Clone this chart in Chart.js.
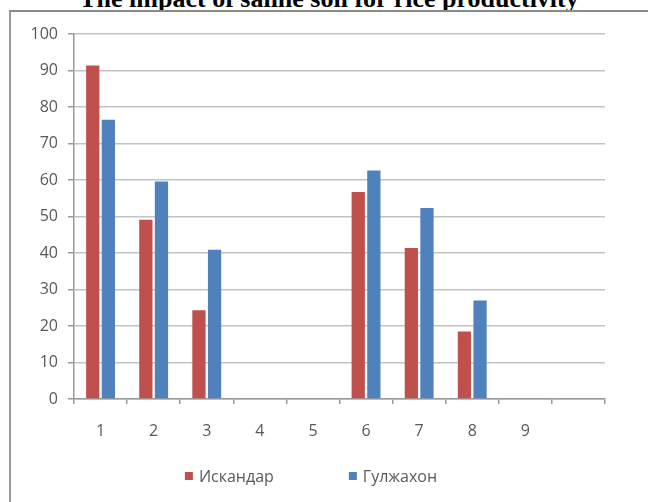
<!DOCTYPE html>
<html>
<head>
<meta charset="utf-8">
<script src="https://cdn.jsdelivr.net/npm/chart.js@4.4.1/dist/chart.umd.min.js"></script>
<style>
    html, body { margin: 0; padding: 0; background: #fff; }
    body { width: 648px; height: 502px; position: relative; overflow: hidden; }
    .chart-title {
        position: absolute; left: 0; top: -14px; width: 658px;
        text-align: center; font: bold 26px/26px "Liberation Serif", "Times New Roman", serif;
        color: #000; white-space: nowrap;
    }
    .chart-frame {
        position: absolute; left: 9px; top: 10px; width: 700px; height: 600px;
        border-left: 2px solid #9a9a9a; border-top: 2px solid #8a8a8a;
    }
    #riceChart { position: absolute; left: 0; top: 0; }
</style>
</head>
<body>
<div class="chart-title">The impact of saline soil for rice productivity</div>
<div class="chart-frame"></div>
<canvas id="riceChart" width="648" height="502"></canvas>
<script>
// Chart data
const categories = ['1', '2', '3', '4', '5', '6', '7', '8', '9', ''];
const iskandarValues = [91.4, 49.1, 24.3, null, null, 56.7, 41.4, 18.5, null, null];
const gulzhakhonValues = [76.5, 59.6, 40.9, null, null, 62.6, 52.3, 27.0, null, null];
const yTicks = [0, 10, 20, 30, 40, 50, 60, 70, 80, 90, 100];

(function() {
    'use strict';

    const labelColor = '#595959';
    const labelFont = { family: '"Open Sans", sans-serif', size: 16 };

    // Legend drawn below the axis, Excel style (wide gap between items)
    const bottomLegend = {
        id: 'bottomLegend',
        afterDraw: function(chart) {
            const ctx = chart.ctx;
            ctx.save();
            ctx.font = '16px "Open Sans", sans-serif';
            ctx.textBaseline = 'middle';
            const box = 8, gapText = 6, gapItems = 75;
            const items = chart.data.datasets.map(function(ds) {
                return { label: ds.label, color: ds.backgroundColor, w: ctx.measureText(ds.label).width };
            });
            let total = gapItems * (items.length - 1);
            items.forEach(function(it) { total += box + gapText + it.w; });
            let x = 311 - total / 2;
            const y = 476;
            items.forEach(function(it) {
                ctx.fillStyle = it.color;
                ctx.fillRect(x, y - box / 2, box, box);
                ctx.fillStyle = labelColor;
                ctx.fillText(it.label, x + box + gapText, y + 1);
                x += box + gapText + it.w + gapItems;
            });
            ctx.restore();
        }
    };

    function initChart() {
        const ctx = document.getElementById('riceChart');
        if (typeof Chart === 'undefined') {
            console.error('Chart.js is not loaded');
            return;
        }

        new Chart(ctx, {
            type: 'bar',
            data: {
                labels: categories,
                datasets: [{
                    label: 'Искандар',
                    data: iskandarValues,
                    backgroundColor: '#C0504D',
                    borderWidth: 0
                }, {
                    label: 'Гулжахон',
                    data: gulzhakhonValues,
                    backgroundColor: '#4F81BD',
                    borderWidth: 0
                }]
            },
            options: {
                responsive: false,
                animation: false,
                devicePixelRatio: 1,
                categoryPercentage: 0.588,
                barPercentage: 0.85,
                layout: {
                    padding: { top: 34, right: 43, bottom: 0, left: 0 }
                },
                plugins: {
                    legend: { display: false },
                    tooltip: { enabled: false }
                },
                scales: {
                    x: {
                        grid: {
                            offset: true,
                            drawOnChartArea: false,
                            tickLength: 5,
                            color: '#9a9a9a',
                            lineWidth: 1.5
                        },
                        border: { color: '#9a9a9a', width: 1.5 },
                        ticks: {
                            color: labelColor,
                            font: labelFont,
                            padding: 18,
                            maxRotation: 0,
                            autoSkip: false
                        },
                        afterFit: function(scale) { scale.height = 103; }
                    },
                    y: {
                        min: 0,
                        max: 100,
                        afterBuildTicks: function(scale) {
                            scale.ticks = yTicks.map(function(v) { return { value: v }; });
                        },
                        grid: {
                            color: '#c3c3c3',
                            lineWidth: 1.5,
                            tickLength: 6,
                            tickColor: '#9a9a9a'
                        },
                        border: { color: '#9a9a9a', width: 1.5 },
                        ticks: {
                            color: labelColor,
                            font: labelFont,
                            padding: 10
                        },
                        afterFit: function(scale) { scale.width = 74; }
                    }
                }
            },
            plugins: [bottomLegend]
        });
    }

    if (document.readyState === 'loading') {
        document.addEventListener('DOMContentLoaded', initChart);
    } else {
        initChart();
    }
})();
</script>
</body>
</html>
